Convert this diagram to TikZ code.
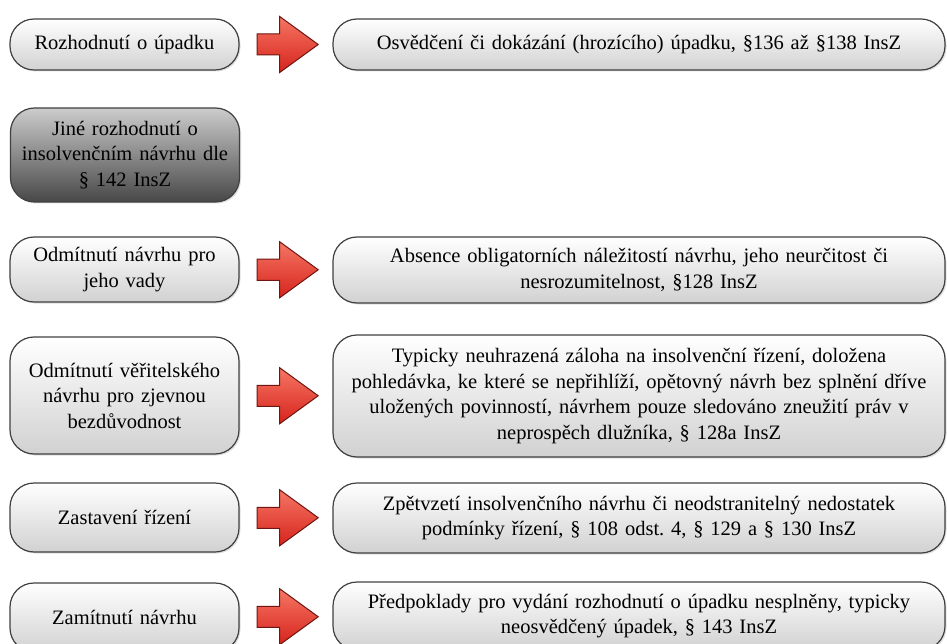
\documentclass[tikz,border=0pt]{standalone}
\usepackage{fontspec}
\setmainfont{Liberation Serif}
\usetikzlibrary{shapes.arrows,shadows,calc}
\definecolor{arrowTop}{RGB}{246,118,100}
\definecolor{arrowBot}{RGB}{214,36,28}
\definecolor{arrowLine}{RGB}{110,22,18}
\frenchspacing
\begin{document}
\begin{tikzpicture}
[x=1pt,y=-1pt,
  boxDecorate/.style={draw=black!75,line width=1.2pt,rounded corners=24pt,align=center,
    top color=white,bottom color=black!18,inner sep=0pt,
    drop shadow={opacity=0.25,shadow xshift=1.5pt,shadow yshift=-1.5pt},
    font=\fontsize{20.5}{25.5}\selectfont},
  leftDecorate/.style={boxDecorate,minimum width=229pt,text width=215pt},
  rightDecorate/.style={boxDecorate,minimum width=612pt,text width=595pt},
  darkDecorate/.style={leftDecorate,top color=black!20,bottom color=black!72},
  arrowDecorate/.style={single arrow,draw=arrowLine,line width=1pt,
    top color=arrowTop,bottom color=arrowBot,minimum height=61pt,minimum width=55pt,
    single arrow head extend=17.5pt,single arrow tip angle=72,
    inner xsep=0pt,inner ysep=10pt}]
\useasboundingbox (0,0) rectangle (947,644);
\clip (0,0) rectangle (947,644);
%% left column
\foreach \nodename/\y/\h/\txt in {
  l1/44.5/51/{Rozhodnutí o úpadku},
  l3/269.5/65/{Odmítnutí návrhu pro\\jeho vady},
  l4/395.5/117/{Odmítnutí věřitelského\\návrhu pro zjevnou\\bezdůvodnost},
  l5/517.5/69/{Zastavení řízení},
  l6/617.5/69/{Zamítnutí návrhu}}
{
  \node (\nodename) at (124.5,\y) [leftDecorate,minimum height=\h pt] {\txt};
}
\node (l2) at (125,155) [darkDecorate,minimum height=94pt]
  {Jiné rozhodnutí o\\insolvenčním návrhu dle\\§ 142 InsZ};
%% right column
\foreach \nodename/\y/\h/\txt in {
  r1/44.5/51/{Osvědčení či dokázání (hrozícího) úpadku, §136 až §138 InsZ},
  r3/270/66/{Absence obligatorních náležitostí návrhu, jeho neurčitost či\\nesrozumitelnost, §128 InsZ},
  r4/396/122/{Typicky neuhrazená záloha na insolvenční řízení, doložena\\pohledávka, ke které se nepřihlíží, opětovný návrh bez splnění dříve\\uložených povinností, návrhem pouze sledováno zneužití práv v\\neprospěch dlužníka, § 128a InsZ},
  r5/518/70/{Zpětvzetí insolvenčního návrhu či neodstranitelný nedostatek\\podmínky řízení, § 108 odst. 4, § 129 a § 130 InsZ},
  r6/616/68/{Předpoklady pro vydání rozhodnutí o úpadku nesplněny, typicky\\neosvědčený úpadek, § 143 InsZ}}
{
  \node (\nodename) at (639,\y) [rightDecorate,minimum height=\h pt] {\txt};
}
%% arrows
\foreach \startnode/\endnode in {l1/r1, l3/r3, l4/r4, l5/r5, l6/r6}
{
  \node (\startnode\endnode) at ($(\startnode.east)!0.5!(\endnode.west)$)
    [arrowDecorate,xshift=-5.5pt] {};
}
\end{tikzpicture}
\end{document}
